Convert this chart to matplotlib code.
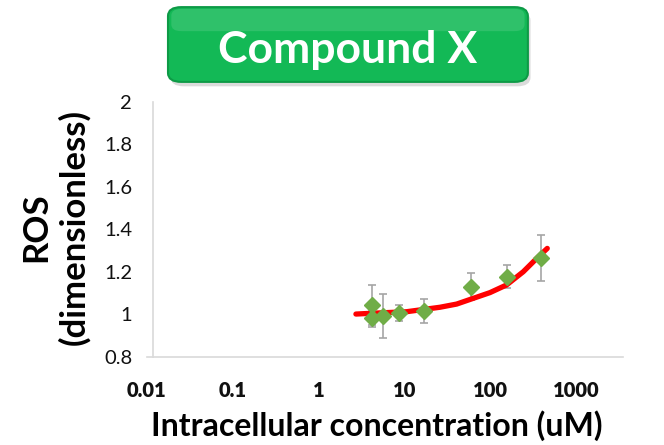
import matplotlib
matplotlib.use("Agg")
import matplotlib.pyplot as plt
from matplotlib.patches import FancyBboxPatch

plt.rcParams['font.family'] = ['Lato', 'DejaVu Sans']

# measured points (uM, ROS) with error bars
conc = [4.13, 4.20, 5.55, 8.65, 16.8, 58.5, 153, 387]
ros = [1.045, 0.982, 0.993, 1.006, 1.016, 1.131, 1.178, 1.267]
ros_err = [0.095, 0.04, 0.105, 0.038, 0.057, 0.063, 0.055, 0.108]

# fitted curve
fit_conc = [2.71, 4.31, 10.5, 25.7, 40.2, 62.8, 98.2, 153, 239, 343, 455]
fit_ros = [1.002, 1.006, 1.013, 1.034, 1.049, 1.076, 1.103, 1.139, 1.201, 1.264, 1.311]

xticks = [0.01, 0.1, 1, 10, 100, 1000]
xtick_labels = ['0.01', '0.1', '1', '10', '100', '1000']
yticks = [0.8, 1.0, 1.2, 1.4, 1.6, 1.8, 2.0]
ytick_labels = ['0.8', '1', '1.2', '1.4', '1.6', '1.8', '2']

fig = plt.figure(figsize=(6.64, 4.45), dpi=100)
ax = fig.add_axes([0.2209, 0.1978, 0.7173, 0.5730])

ax.errorbar(conc, ros, yerr=ros_err, fmt='none', ecolor='#a5a5a5',
            elinewidth=1.2, capsize=2.6, capthick=1.2, zorder=2)
ax.plot(fit_conc, fit_ros, color='#ff0000', lw=3.8, solid_capstyle='round', zorder=3)
ax.plot(conc, ros, 'D', color='#70ad47', ms=7.8, mec='#70ad47', zorder=4)

ax.set_xscale('log')
ax.set_xlim(0.01, 3452)
ax.set_ylim(0.8, 2.0)
ax.set_xticks(xticks)
ax.set_xticklabels(xtick_labels)
ax.set_yticks(yticks)
ax.set_yticklabels(ytick_labels)
ax.minorticks_off()
ax.tick_params(axis='both', length=0, labelsize=14.5, labelcolor='#111111')
ax.tick_params(axis='x', pad=17)
ax.tick_params(axis='y', pad=15)
for lab in ax.get_xticklabels() + ax.get_yticklabels():
    lab.set_fontweight('heavy')

for s in ['top', 'right']:
    ax.spines[s].set_visible(False)
for s in ['left', 'bottom']:
    ax.spines[s].set_color('#d9d9d9')
    ax.spines[s].set_linewidth(1.2)
ax.spines['left'].set_position(('axes', 6.3 / 476.3))

# axis titles
fig.text(0.083, 0.49, 'ROS\n(dimensionless)', rotation=90, ha='center', va='center',
         fontsize=25, fontweight='bold', linespacing=1.22)
fig.text(0.568, 0.02, 'Intracellular concentration (uM)', ha='center', va='baseline',
         fontsize=23, fontweight='bold')

# green title box
shadow = FancyBboxPatch((0.257, 0.806), 0.542, 0.168, boxstyle='round,pad=0,rounding_size=0.02',
                        transform=fig.transFigure, facecolor='#9a9a9a', edgecolor='none',
                        alpha=0.35, zorder=1)
box = FancyBboxPatch((0.253, 0.816), 0.542, 0.168, boxstyle='round,pad=0,rounding_size=0.02',
                     transform=fig.transFigure, facecolor='#13b956', edgecolor='#0d9a46',
                     linewidth=1.5, zorder=2)
shine = FancyBboxPatch((0.258, 0.93), 0.532, 0.05, boxstyle='round,pad=0,rounding_size=0.015',
                       transform=fig.transFigure, facecolor='white', edgecolor='none',
                       alpha=0.12, zorder=2.5)
fig.patches.extend([shadow, box, shine])
fig.text(0.524, 0.887, 'Compound X', ha='center', va='center', color='white',
         fontsize=32, fontweight='bold', zorder=3)

fig.savefig('out.png', dpi=100)
